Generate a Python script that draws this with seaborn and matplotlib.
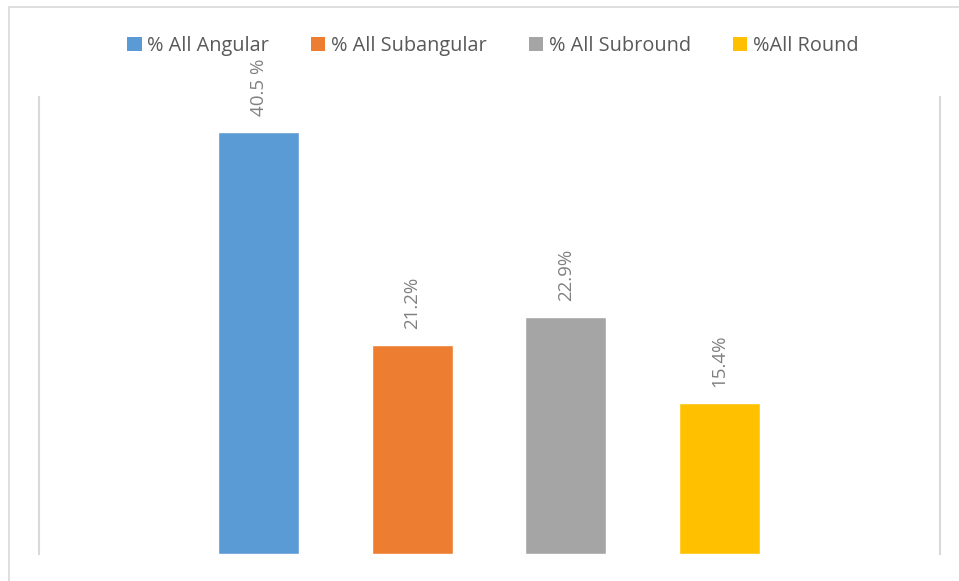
import matplotlib
matplotlib.use("Agg")
import matplotlib.pyplot as plt
from matplotlib.patches import Patch, Rectangle
import seaborn as sns
import pandas as pd

categories = ["% All Angular", "% All Subangular", "% All Subround", "%All Round"]
values = [40.5, 20.1, 22.7, 14.5]
value_labels = ["40.5 %", "21.2%", "22.9%", "15.4%"]
colors = ["#5B9BD5", "#ED7D31", "#A5A5A5", "#FFC000"]

sns.set_theme(style="white")
plt.rcParams["font.family"] = ["Open Sans", "DejaVu Sans"]

W, H = 959, 581
fig = plt.figure(figsize=(W / 100, H / 100), dpi=100)
ax = fig.add_axes([38.5 / W, (H - 554) / H, (939.5 - 38.5) / W, (554 - 97) / H])

df = pd.DataFrame({"cat": categories, "val": values})
sns.barplot(data=df, x="cat", y="val", hue="cat", palette=colors, width=0.527,
            legend=False, ax=ax, saturation=1)

ax.set_xlim(-1.4317, 4.4316)
ax.set_ylim(0, 43.85)
ax.set_xticks([])
ax.set_yticks([])
ax.set_xlabel("")
ax.set_ylabel("")
for s in ["top", "bottom"]:
    ax.spines[s].set_visible(False)
for s in ["left", "right"]:
    ax.spines[s].set_color("#d9d9d9")
    ax.spines[s].set_linewidth(1.5)

for i, (v, lab) in enumerate(zip(values, value_labels)):
    ax.annotate(lab, xy=(i, v), xytext=(0, 11.5), textcoords="offset points",
                rotation=90, ha="center", va="bottom", fontsize=13.5, color="#808080")

handles = [Patch(facecolor=c, edgecolor="none") for c in colors]
fig.legend(handles, categories, loc="center", bbox_to_anchor=(493 / W, 1 - 46 / H),
           ncol=4, frameon=False, fontsize=14.3, handlelength=0.72, handleheight=0.72,
           handletextpad=0.3, columnspacing=2.1, labelcolor="#595959")

fig.add_artist(Rectangle((8.5 / W, -0.05), 1.2, 1 - 7 / H + 0.05, transform=fig.transFigure,
                         fill=False, edgecolor="#d9d9d9", linewidth=1.2))

fig.savefig("out.png", dpi=100)
